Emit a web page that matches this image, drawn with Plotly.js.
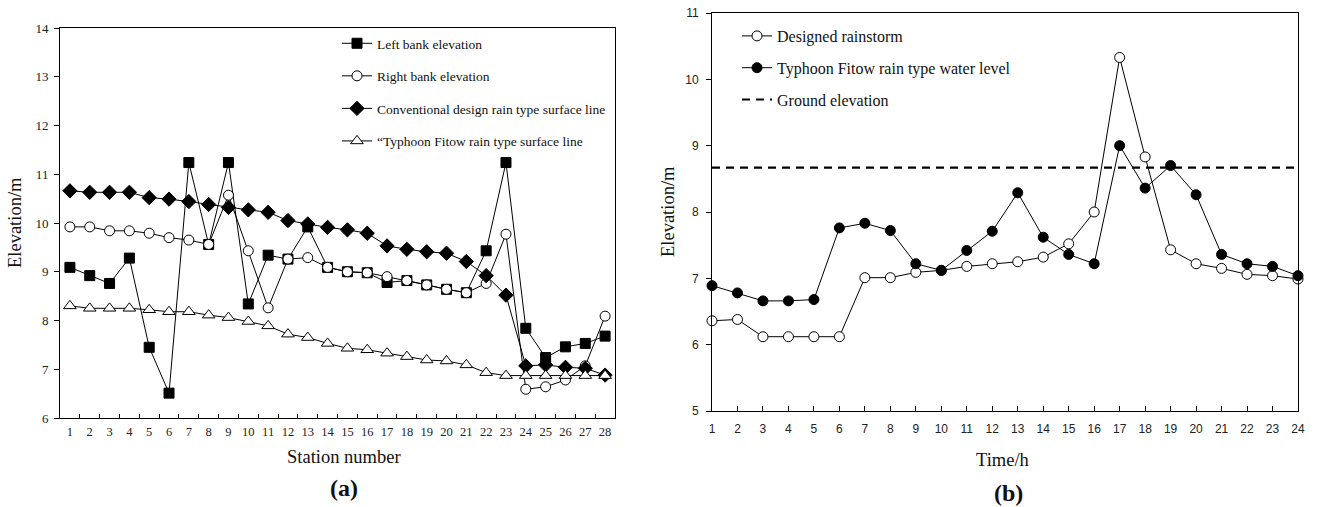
<!DOCTYPE html>
<html>
<head>
<meta charset="utf-8">
<script src="https://cdn.plot.ly/plotly-3.0.1.min.js"></script>
<style>
html,body{margin:0;padding:0;background:#fff;}
#chart{width:1317px;height:507px;}
</style>
</head>
<body>
<div id="chart"></div>
<script>
// ---- Panel (a) data ----
const stations = [1,2,3,4,5,6,7,8,9,10,11,12,13,14,15,16,17,18,19,20,21,22,23,24,25,26,27,28];
const leftBank = [9.09,8.92,8.76,9.28,7.45,6.51,11.24,9.56,11.24,8.34,9.34,9.26,9.92,9.09,9.00,8.98,8.78,8.82,8.73,8.64,8.57,9.43,11.24,7.84,7.24,7.46,7.53,7.68];
const rightBank = [9.92,9.92,9.84,9.84,9.79,9.70,9.65,9.56,10.57,9.43,8.26,9.26,9.29,9.09,9.00,8.98,8.90,8.82,8.73,8.64,8.57,8.76,9.77,6.59,6.64,6.78,7.07,8.09];
const conventional = [10.66,10.63,10.63,10.63,10.52,10.49,10.44,10.38,10.32,10.27,10.22,10.05,9.98,9.91,9.86,9.79,9.53,9.46,9.41,9.38,9.21,8.92,8.52,7.07,7.09,7.04,7.02,6.88];
const fitowSurface = [8.30,8.25,8.25,8.25,8.22,8.18,8.18,8.11,8.06,7.98,7.89,7.72,7.65,7.53,7.43,7.40,7.33,7.26,7.19,7.17,7.09,6.93,6.87,6.87,6.87,6.87,6.87,6.87];
const namesA = ["Left bank elevation","Right bank elevation","Conventional design rain type surface line","\u201cTyphoon Fitow rain type surface line"];

// ---- Panel (b) data ----
const hours = [1,2,3,4,5,6,7,8,9,10,11,12,13,14,15,16,17,18,19,20,21,22,23,24];
const designed = [6.36,6.38,6.12,6.12,6.12,6.12,7.01,7.01,7.09,7.12,7.18,7.22,7.25,7.32,7.52,8.00,10.33,8.83,7.43,7.22,7.15,7.06,7.04,6.99];
const fitowLevel = [6.89,6.78,6.66,6.66,6.68,7.76,7.83,7.72,7.22,7.12,7.42,7.71,8.29,7.62,7.36,7.22,9.00,8.36,8.70,8.26,7.36,7.22,7.18,7.04];
const groundElevation = 8.67;
const groundX = [1,24];
const namesB = ["Designed rainstorm","Typhoon Fitow rain type water level","Ground elevation"];

const serif = "Liberation Serif, Times New Roman, serif";
const sans = "Liberation Sans, Arial, sans-serif";
const blk = "#000";

const traces = [
  {x:stations, y:leftBank, name:namesA[0], type:"scatter", mode:"lines+markers", xaxis:"x", yaxis:"y",
   line:{color:blk,width:1}, marker:{symbol:"square",size:10,color:blk,line:{color:blk,width:1}},
   legend:"legend", legendgroup:"a1", cliponaxis:false},
  {x:stations, y:rightBank, name:namesA[1], type:"scatter", mode:"lines+markers", xaxis:"x", yaxis:"y",
   line:{color:blk,width:1}, marker:{symbol:"circle",size:10,color:"#fff",line:{color:blk,width:1}},
   legend:"legend", legendgroup:"a2", cliponaxis:false},
  {x:stations, y:conventional, name:namesA[2], type:"scatter", mode:"lines+markers", xaxis:"x", yaxis:"y",
   line:{color:blk,width:1}, marker:{symbol:"diamond",size:11,color:blk,line:{color:blk,width:1}},
   legend:"legend", legendgroup:"a3", cliponaxis:false},
  {x:stations, y:fitowSurface, name:namesA[3], type:"scatter", mode:"lines+markers", xaxis:"x", yaxis:"y",
   line:{color:blk,width:1}, marker:{symbol:"triangle-up",size:11,color:"#fff",line:{color:blk,width:1}},
   legend:"legend", legendgroup:"a4", cliponaxis:false},

  {x:hours, y:designed, name:namesB[0], type:"scatter", mode:"lines+markers", xaxis:"x2", yaxis:"y2",
   line:{color:blk,width:1}, marker:{symbol:"circle",size:10,color:"#fff",line:{color:blk,width:1}},
   legend:"legend2", legendgroup:"b1", cliponaxis:false},
  {x:hours, y:fitowLevel, name:namesB[1], type:"scatter", mode:"lines+markers", xaxis:"x2", yaxis:"y2",
   line:{color:blk,width:1}, marker:{symbol:"circle",size:10,color:blk,line:{color:blk,width:1}},
   legend:"legend2", legendgroup:"b2", cliponaxis:false},
  {x:groundX, y:groundX.map(()=>groundElevation), name:namesB[2], type:"scatter", mode:"lines", xaxis:"x2", yaxis:"y2",
   line:{color:blk,width:2.2,dash:"8px,6px"},
   legend:"legend2", legendgroup:"b3", cliponaxis:false}
];

const W = 1317, H = 507;
const px = v => v / W;
const py = v => 1 - v / H;

const layout = {
  width: W, height: H,
  margin:{l:0,r:0,t:0,b:0},
  paper_bgcolor:"#fff", plot_bgcolor:"#fff",
  font:{family:serif,color:blk},
  xaxis:{domain:[px(60),px(615)], range:[0.5,28.5], tickmode:"array", tickvals:stations,
    ticks:"inside", ticklen:0, showline:true, linecolor:blk, linewidth:1, mirror:true,
    showgrid:false, zeroline:false, tickfont:{family:serif,size:12.5,color:"#222"},
    ticklabelstandoff:2,
    minor:{tickmode:"linear", tick0:0.5, dtick:1, ticks:"inside", ticklen:4, tickcolor:blk, tickwidth:1, showgrid:false},
    anchor:"y", fixedrange:true},
  yaxis:{domain:[py(418),py(28)], range:[6,14], dtick:1, ticks:"outside", ticklen:5, tickcolor:blk,
    showline:true, linecolor:blk, linewidth:1, mirror:true, showgrid:false, zeroline:false,
    ticklabelstandoff:3,
    tickfont:{family:serif,size:13,color:"#222"}, anchor:"x", fixedrange:true},
  xaxis2:{domain:[px(712),px(1298)], range:[1,24], dtick:1, tick0:1, ticks:"inside", ticklen:5, tickcolor:blk,
    showline:true, linecolor:blk, linewidth:1, mirror:true, showgrid:false, zeroline:false,
    tickfont:{family:sans,size:12,color:"#222"}, ticklabelstandoff:7, anchor:"y2", fixedrange:true},
  yaxis2:{domain:[py(411),py(13)], range:[5,11], dtick:1, ticks:"outside", ticklen:5, tickcolor:blk,
    showline:true, linecolor:blk, linewidth:1, mirror:true, showgrid:false, zeroline:false,
    ticklabelstandoff:5,
    tickfont:{family:sans,size:12,color:"#222"}, anchor:"x2", fixedrange:true},
  legend:{x:px(337), y:py(28), xanchor:"left", yanchor:"top", bgcolor:"rgba(0,0,0,0)",
    font:{family:serif,size:13.5,color:"#111"}, traceorder:"grouped", tracegroupgap:12, itemwidth:30},
  legend2:{x:px(737), y:py(19), xanchor:"left", yanchor:"top", bgcolor:"rgba(0,0,0,0)",
    font:{family:serif,size:16,color:"#111"}, traceorder:"grouped", tracegroupgap:8, itemwidth:30},
  showlegend:true,
  annotations:[
    {text:"Elevation/m", xref:"paper", yref:"paper", x:px(15), y:py(223), xanchor:"center", yanchor:"middle",
     textangle:-90, showarrow:false, font:{family:serif,size:18.5,color:"#111"}},
    {text:"Station number", xref:"paper", yref:"paper", x:px(344), y:py(457), xanchor:"center", yanchor:"middle",
     showarrow:false, font:{family:serif,size:18.5,color:"#111"}},
    {text:"<b>(a)</b>", xref:"paper", yref:"paper", x:px(344), y:py(488), xanchor:"center", yanchor:"middle",
     showarrow:false, font:{family:serif,size:24,color:"#111"}},
    {text:"Elevation/m", xref:"paper", yref:"paper", x:px(668), y:py(212), xanchor:"center", yanchor:"middle",
     textangle:-90, showarrow:false, font:{family:serif,size:18.5,color:"#111"}},
    {text:"Time/h", xref:"paper", yref:"paper", x:px(1002), y:py(460), xanchor:"center", yanchor:"middle",
     showarrow:false, font:{family:serif,size:18.5,color:"#111"}},
    {text:"<b>(b)</b>", xref:"paper", yref:"paper", x:px(1008), y:py(493), xanchor:"center", yanchor:"middle",
     showarrow:false, font:{family:serif,size:24,color:"#111"}}
  ]
};

Plotly.newPlot("chart", traces, layout, {staticPlot:true, displayModeBar:false});
</script>
</body>
</html>
